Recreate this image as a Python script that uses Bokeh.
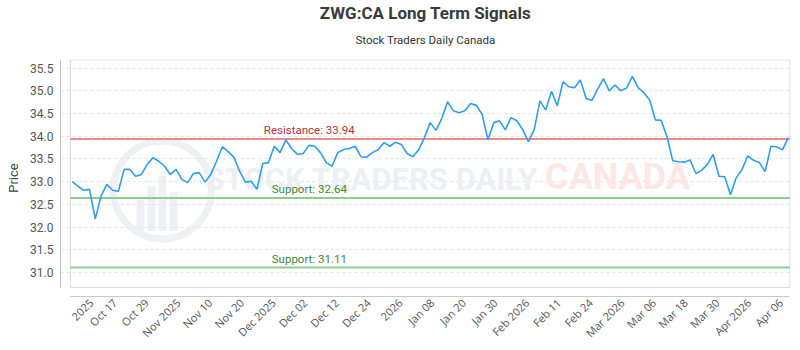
import numpy as np
from bokeh.plotting import figure
from bokeh.models import (Title, FixedTicker, NumeralTickFormatter, Range1d,
                          BoxAnnotation, Label, ColumnDataSource)
from bokeh.core.properties import value
from bokeh.embed import file_html
from bokeh.resources import INLINE

# ---------------- data ----------------
title_text = "ZWG:CA Long Term Signals"
subtitle_text = "Stock Traders Daily Canada"
y_axis_title = "Price"

prices = [
    33.00, 32.90, 32.81, 32.83, 32.18, 32.68, 32.94, 32.81, 32.79, 33.27,
    33.27, 33.12, 33.16, 33.38, 33.53, 33.45, 33.34, 33.16, 33.27, 33.05,
    32.98, 33.18, 33.20, 32.99, 33.16, 33.45, 33.77, 33.66, 33.54, 33.23,
    32.99, 33.01, 32.83, 33.40, 33.42, 33.78, 33.64, 33.92, 33.73, 33.60,
    33.62, 33.80, 33.78, 33.64, 33.42, 33.34, 33.64, 33.71, 33.73, 33.78,
    33.55, 33.54, 33.64, 33.71, 33.86, 33.78, 33.87, 33.82, 33.62, 33.55,
    33.70, 33.97, 34.30, 34.13, 34.39, 34.76, 34.56, 34.52, 34.56, 34.72,
    34.68, 34.48, 33.92, 34.30, 34.34, 34.14, 34.41, 34.34, 34.15, 33.88,
    34.14, 34.78, 34.58, 34.99, 34.67, 35.20, 35.09, 35.07, 35.24, 34.83,
    34.79, 35.04, 35.27, 35.00, 35.13, 35.00, 35.06, 35.32, 35.07, 34.96,
    34.80, 34.36, 34.35, 33.99, 33.46, 33.44, 33.43, 33.48, 33.18, 33.25,
    33.38, 33.60, 33.12, 33.11, 32.71, 33.09, 33.27, 33.57, 33.47, 33.42,
    33.22, 33.78, 33.77, 33.70, 33.97,
]

tick_labels = ["2025", "Oct 17", "Oct 29", "Nov 2025", "Nov 10", "Nov 20",
               "Dec 2025", "Dec 02", "Dec 12", "Dec 24", "2026", "Jan 08",
               "Jan 20", "Jan 30", "Feb 2026", "Feb 11", "Feb 24", "Mar 2026",
               "Mar 06", "Mar 18", "Mar 30", "Apr 2026", "Apr 06"]

level_names = ["Resistance", "Support", "Support"]
level_values = [33.94, 32.64, 31.11]

y_tick_values = [31.0, 31.5, 32.0, 32.5, 33.0, 33.5, 34.0, 34.5, 35.0, 35.5]

# ---------------- layout helpers ----------------
N = len(prices)
idx = list(range(N))
PX_X = 730 / 126.31           # pixels per session
PX_Y = 237 / 5.21             # pixels per price unit
box_left = -0.29
box_right = N - 1 + 0.29
box_bottom = 30.67
box_top = 35.68
x_start = box_left - 10 / PX_X
y_start = box_bottom - 9 / PX_Y


def px_x(px):
    """pixel offset from the plot box's left edge -> session index"""
    return box_left + px / PX_X


def px_y(px):
    """pixel offset below the 35.5 grid line -> price"""
    return 35.5 - px / PX_Y


# label positions on the category axis (evenly spaced after the first)
tick_pos = [3.3] + [7.4 + 5.49 * i for i in range(len(tick_labels) - 1)]

line_colors = ["#f08a8a", "#8fca8f", "#8fca8f"]
text_colors = ["#b0343a", "#3a8a3a", "#3a8a3a"]

p = figure(width=800, height=350,
           x_range=Range1d(x_start, box_right + 0.1),
           y_range=Range1d(y_start, box_top + 0.01),
           output_backend="svg", toolbar_location=None,
           min_border_left=60, min_border_right=10,
           min_border_top=59, min_border_bottom=54)
p.outline_line_color = None
p.background_fill_color = "white"
p.border_fill_color = "white"

# titles
sub = Title(text=subtitle_text, align="center", text_font="Roboto",
            text_font_size="11.5px", text_font_style="normal",
            text_color="#333333", offset=-20, standoff=21,
            vertical_align="top")
main = Title(text=title_text, align="center", text_font="Roboto",
             text_font_size="17px", text_font_style="bold",
             text_color="#3a3a3a", offset=-20, standoff=0)
p.add_layout(sub, "above")
p.add_layout(main, "above")

# watermark (logo ring with bars, words)
wm_logo = ColumnDataSource(dict(x=[px_x(92)], y=[px_y(122)]))
p.scatter("x", "y", source=wm_logo, size=98, fill_color=None,
          line_color="#eef0f4", line_width=7, level="underlay")
wm_bars = ColumnDataSource(dict(
    l=[px_x(66), px_x(77), px_x(88), px_x(99)],
    r=[px_x(74), px_x(85), px_x(96), px_x(107)],
    b=[px_y(163)] * 4,
    t=[px_y(132), px_y(118), px_y(108), px_y(124)]))
p.quad(left="l", right="r", bottom="b", top="t", source=wm_bars,
       fill_color="#eef0f4", line_color=None, level="underlay")
p.add_layout(Label(x=px_x(135), y=px_y(130),
                   text="STOCK TRADERS DAILY", text_font="Roboto",
                   text_font_size="31px", text_font_style="bold",
                   text_color="#eceff3", level="underlay"))
p.add_layout(Label(x=px_x(475), y=px_y(130),
                   text="CANADA", text_font="Roboto",
                   text_font_size="36px", text_font_style="bold",
                   text_color="#fde6e6", level="underlay"))

# plot box
p.add_layout(BoxAnnotation(left=box_left, right=box_right, bottom=box_bottom,
                           top=box_top, fill_color=None, line_color="#8a8a8a",
                           line_width=1, level="underlay"))

# support / resistance
lv = ColumnDataSource(dict(
    x0=[box_left] * 3, x1=[box_right] * 3, y=level_values,
    lc=line_colors, tc=text_colors,
    tx=[px_x(239)] * 3,
    label=[f"{n}: {v:.2f}" for n, v in zip(level_names, level_values)]))
p.segment(x0="x0", y0="y", x1="x1", y1="y", source=lv, line_color="lc",
          line_width=2)
p.text(x="tx", y="y", text="label", source=lv, text_color="tc",
       text_align="center", text_baseline="bottom", y_offset=-2,
       text_font=value("Roboto"), text_font_size="11.5px")

# price line
p.line(idx, prices, line_color="#2f9ef0", line_width=1.6)

# axes
p.xgrid.grid_line_color = None
p.ygrid.grid_line_color = "#e4e4e4"
p.ygrid.grid_line_dash = "3 3"

p.yaxis.ticker = FixedTicker(ticks=y_tick_values)
p.yaxis.formatter = NumeralTickFormatter(format="0.0")
p.yaxis.bounds = (box_bottom, box_top)
p.yaxis.axis_line_color = "#c8c8c8"
p.yaxis.major_tick_line_color = None
p.yaxis.minor_tick_line_color = None
p.yaxis.major_tick_in = 0
p.yaxis.major_tick_out = 0
p.yaxis.major_label_standoff = 7
p.yaxis.major_label_text_font = "Roboto"
p.yaxis.major_label_text_font_size = "12px"
p.yaxis.major_label_text_color = "#555555"
p.yaxis.axis_label = y_axis_title
p.yaxis.axis_label_text_font = "Roboto"
p.yaxis.axis_label_text_font_size = "13px"
p.yaxis.axis_label_text_font_style = "normal"
p.yaxis.axis_label_text_color = "#444444"
p.yaxis.axis_label_standoff = 6

p.xaxis.ticker = FixedTicker(ticks=tick_pos)
p.xaxis.major_label_overrides = {t: l for t, l in zip(tick_pos, tick_labels)}
p.xaxis.bounds = (box_left, box_right)
p.xaxis.axis_line_color = "#c8c8c8"
p.xaxis.major_tick_line_color = None
p.xaxis.minor_tick_line_color = None
p.xaxis.major_tick_in = 0
p.xaxis.major_tick_out = 0
p.xaxis.major_label_standoff = 4
p.xaxis.major_label_orientation = np.pi / 4
p.xaxis.major_label_text_font = "Open Sans"
p.xaxis.major_label_text_font_size = "11px"
p.xaxis.major_label_text_color = "#555555"

open("out.html", "w").write(file_html(p, INLINE))
